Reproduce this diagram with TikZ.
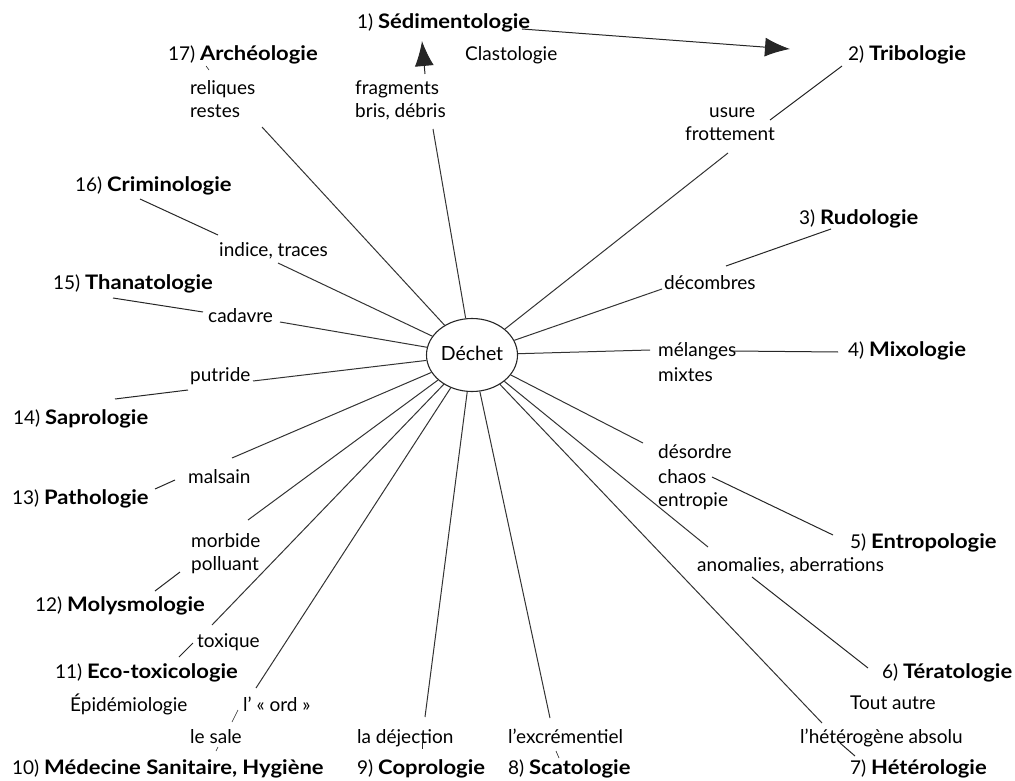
\documentclass[tikz,border=0pt]{standalone}
\usepackage{fontspec}
\setmainfont{Lato}[BoldFeatures={FakeStretch=1.1}]
\usetikzlibrary{shapes.geometric,arrows.meta}
\newcommand{\ttlb}[1]{{\fontsize{20}{22}\selectfont\bfseries #1}}
\begin{document}
\begin{tikzpicture}[x=1pt,y=-1pt,
  txt/.style={anchor=base west,inner sep=0pt,font=\fontsize{19}{22}\selectfont},
  spoke/.style={draw=black!80,line width=1pt},
  link/.style={draw=black!85,line width=1pt},
  bigarrow/.style={link,-{Latex[length=25pt,width=19pt]}}]
\useasboundingbox (0,0) rectangle (1015,781);
% centre
\node[draw=black!85,line width=1.1pt,ellipse,minimum width=91pt,minimum height=73pt,inner sep=0pt,
  font=\fontsize{19.5}{22}\selectfont] (dechet) at (472,355) {\raisebox{4pt}{Déchet}};
% titles and words
\node[txt] (t1) at (357,29) {1) \ttlb{Sédimentologie}};
\node[txt] (clast) at (465,61) {Clastologie};
\node[txt] (t17) at (168,61) {17) \ttlb{Archéologie}};
\node[txt] (reliq) at (190,95) {reliques};
\node[txt] (restes) at (190,118) {restes};
\node[txt] (frag) at (355,95) {fragments};
\node[txt] (bris) at (355,118) {bris, débris};
\node[txt] (t2) at (848,61) {2) \ttlb{Tribologie}};
\node[txt] (usure) at (709,118) {usure};
\node[txt] (frott) at (685,141) {frottement};
\node[txt] (t3) at (799,224) {3) \ttlb{Rudologie}};
\node[txt] (decomb) at (664,289) {décombres};
\node[txt] (melang) at (658,356) {mélanges};
\node[txt] (mixtes) at (658,381) {mixtes};
\node[txt] (t4) at (848,356) {4) \ttlb{Mixologie}};
\node[txt] (desord) at (658,458) {désordre};
\node[txt] (chaos) at (658,483) {chaos};
\node[txt] (entrop) at (658,506) {entropie};
\node[txt] (t5) at (850,548) {5) \ttlb{Entropologie}};
\node[txt] (anomal) at (697,571) {anomalies, aberrations};
\node[txt] (t6) at (882,678) {6) \ttlb{Tératologie}};
\node[txt] (tout) at (850,709) {Tout autre};
\node[txt] (hetero) at (800,743) {l’hétérogène absolu};
\node[txt] (t7) at (850,774) {7) \ttlb{Hétérologie}};
\node[txt] (t8) at (508,774) {8) \ttlb{Scatologie}};
\node[txt] (excr) at (508,743) {l’excrémentiel};
\node[txt] (t9) at (357,774) {9) \ttlb{Coprologie}};
\node[txt] (dejec) at (357,743) {la déjection};
\node[txt] (t10) at (12,774) {10) \ttlb{Médecine Sanitaire, Hygiène}};
\node[txt] (sale) at (190,743) {le sale};
\node[txt] (ord) at (243,711) {l’~«~ord~»};
\node[txt] (epid) at (70,711) {Épidémiologie};
\node[txt] (t11) at (55,678) {11) \ttlb{Eco-toxicologie}};
\node[txt] (toxiq) at (197,647) {toxique};
\node[txt] (t12) at (35,611) {12) \ttlb{Molysmologie}};
\node[txt] (morb) at (191,547) {morbide};
\node[txt] (pollu) at (191,570) {polluant};
\node[txt] (t13) at (12,504) {13) \ttlb{Pathologie}};
\node[txt] (malsain) at (188,483) {malsain};
\node[txt] (t14) at (13,424) {14) \ttlb{Saprologie}};
\node[txt] (putride) at (190,381) {putride};
\node[txt] (t15) at (53,289) {15) \ttlb{Thanatologie}};
\node[txt] (cadavre) at (208,322) {cadavre};
\node[txt] (t16) at (75,191) {16) \ttlb{Criminologie}};
\node[txt] (indice) at (219,256) {indice, traces};
% spoke ends
\coordinate (s17) at (262,127);
\coordinate (s1) at (433,129);
\coordinate (s2) at (728,153);
\coordinate (s3) at (662,289);
\coordinate (s4) at (650,350);
\coordinate (s5) at (643,443);
\coordinate (s6) at (708,547);
\coordinate (s7) at (822,723);
\coordinate (s8) at (550,718);
\coordinate (s9) at (425,717);
\coordinate (s10) at (256,688);
\coordinate (s11) at (212,625);
\coordinate (s12) at (248,520);
\coordinate (s13) at (232,458);
\coordinate (s14) at (253,381);
\coordinate (s15) at (280,322);
\coordinate (s16) at (278,263);
\foreach \s in {s1,s2,s3,s4,s5,s6,s7,s8,s9,s10,s11,s12,s13,s14,s15,s16,s17}
  \draw[spoke] (\s) -- (dechet);
% secondary links
\coordinate (a1) at (522,29);  \coordinate (a2) at (790,49);
\draw[bigarrow] (a1) -- (a2);
\coordinate (b1) at (425,74);  \coordinate (b2) at (422,41);
\draw[bigarrow] (b1) -- (b2);
\coordinate (c1) at (206,66);  \coordinate (c2) at (209,70);
\draw[link,line width=0.6pt] (c1) -- (c2);
\coordinate (d1) at (842,66);  \coordinate (d2) at (770,120);
\draw[link] (d1) -- (d2);
\coordinate (e1) at (831,229); \coordinate (e2) at (726,266);
\draw[link] (e1) -- (e2);
\coordinate (f1) at (732,351); \coordinate (f2) at (838,352);
\draw[link] (f1) -- (f2);
\coordinate (g1) at (712,477); \coordinate (g2) at (833,535);
\draw[link] (g1) -- (g2);
\coordinate (h1) at (752,577); \coordinate (h2) at (868,668);
\draw[link] (h1) -- (h2);
\coordinate (i1) at (840,743); \coordinate (i2) at (855,756);
\draw[link] (i1) -- (i2);
\coordinate (j1) at (556,751); \coordinate (j2) at (559,758);
\draw[link,line width=0.6pt] (j1) -- (j2);
\coordinate (k1) at (422,742); \coordinate (k2) at (422,749);
\draw[link,line width=0.6pt] (k1) -- (k2);
\coordinate (l1) at (238,710); \coordinate (l2) at (232,722);
\draw[link,line width=0.6pt] (l1) -- (l2);
\coordinate (l3) at (218,747); \coordinate (l4) at (216,751);
\draw[link,line width=0.6pt] (l3) -- (l4);
\coordinate (m1) at (193,643); \coordinate (m2) at (179,657);
\draw[link] (m1) -- (m2);
\coordinate (n1) at (180,572); \coordinate (n2) at (155,591);
\draw[link] (n1) -- (n2);
\coordinate (o1) at (175,480); \coordinate (o2) at (155,489);
\draw[link] (o1) -- (o2);
\coordinate (p1) at (188,390); \coordinate (p2) at (115,399);
\draw[link] (p1) -- (p2);
\coordinate (q1) at (113,298); \coordinate (q2) at (203,312);
\draw[link] (q1) -- (q2);
\coordinate (r1) at (140,199); \coordinate (r2) at (218,235);
\draw[link] (r1) -- (r2);
\end{tikzpicture}
\end{document}
